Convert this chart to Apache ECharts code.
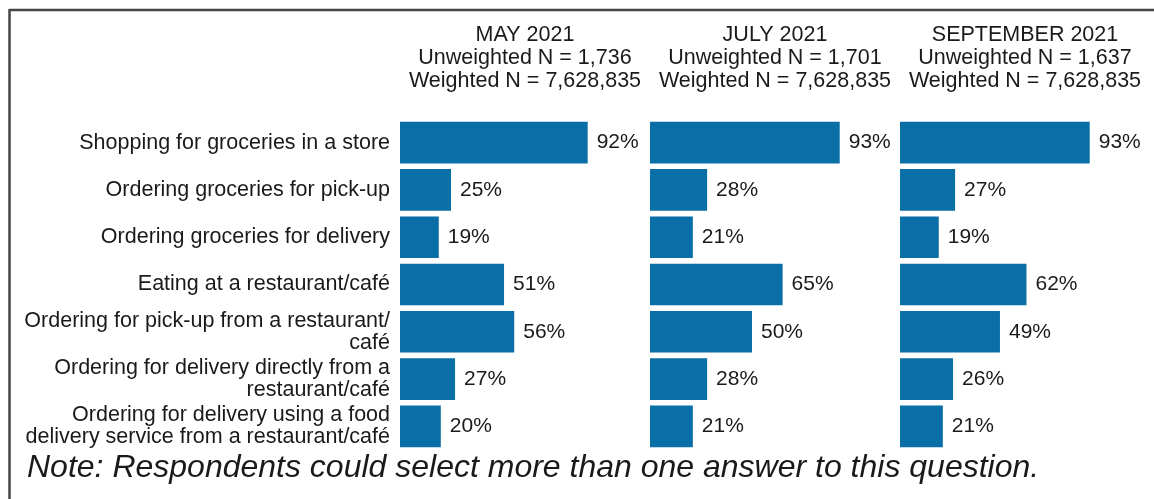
<!DOCTYPE html>
<html>
<head>
<meta charset="utf-8">
<style>
  html, body { margin: 0; padding: 0; background: #ffffff; }
  #chart { width: 1154px; height: 499px; }
</style>
<script src="https://cdn.jsdelivr.net/npm/echarts@6/dist/echarts.min.js"></script>
</head>
<body>
<div id="chart"></div>
<script>
// Activities asked about in each survey wave
const categories = [
  'Shopping for groceries in a store',
  'Ordering groceries for pick-up',
  'Ordering groceries for delivery',
  'Eating at a restaurant/café',
  'Ordering for pick-up from a restaurant/\ncafé',
  'Ordering for delivery directly from a\nrestaurant/café',
  'Ordering for delivery using a food\ndelivery service from a restaurant/café'
];

// Percent of respondents per wave
const may2021 = [92, 25, 19, 51, 56, 27, 20];
const july2021 = [93, 28, 21, 65, 50, 28, 21];
const september2021 = [93, 27, 19, 62, 49, 26, 21];

// Panel headers
const waveNames = ['MAY 2021', 'JULY 2021', 'SEPTEMBER 2021'];
const unweightedN = ['1,736', '1,701', '1,637'];
const weightedN = ['7,628,835', '7,628,835', '7,628,835'];

const noteText = 'Note: Respondents could select more than one answer to this question.';

const FONT = '"Liberation Sans", Arial, Helvetica, sans-serif';
const BAR_COLOR = '#0a6ea7';
const TEXT_COLOR = '#1a1a1a';

const waves = [may2021, july2021, september2021];
const panelLeft = [400, 650, 900];
const panelWidth = 204;
const gridTop = 119;
const gridHeight = 331;

const grids = panelLeft.map(l => ({ left: l, top: gridTop, width: panelWidth, height: gridHeight }));

const xAxes = waves.map((_, i) => ({
  type: 'value', gridIndex: i, min: 0, max: 100,
  show: false
}));

const yAxes = waves.map((_, i) => ({
  type: 'category', gridIndex: i, data: categories, inverse: true,
  axisLine: { show: false }, axisTick: { show: false }, splitLine: { show: false },
  axisLabel: i === 0 ? {
    show: true, margin: 10, align: 'right',
    fontFamily: FONT, fontSize: 21.5, color: TEXT_COLOR, lineHeight: 22
  } : { show: false }
}));

const series = waves.map((vals, i) => ({
  type: 'bar', xAxisIndex: i, yAxisIndex: i, data: vals,
  barCategoryGap: '12%',
  itemStyle: { color: BAR_COLOR },
  label: {
    show: true, position: 'right', distance: 9,
    formatter: p => p.value + '%',
    fontFamily: FONT, fontSize: 21, color: TEXT_COLOR
  },
  silent: true
}));

const titles = waves.map((_, i) => ({
  text: waveNames[i] + '\nUnweighted N = ' + unweightedN[i] + '\nWeighted N = ' + weightedN[i],
  left: panelLeft[i] + 125, top: 24, padding: 0, textAlign: 'center',
  textStyle: { fontFamily: FONT, fontSize: 21.5, fontWeight: 'normal', color: TEXT_COLOR, lineHeight: 23 }
}));

const chart = echarts.init(document.getElementById('chart'), null, { renderer: 'canvas' });
chart.setOption({
  animation: false,
  backgroundColor: '#ffffff',
  title: titles,
  grid: grids,
  xAxis: xAxes,
  yAxis: yAxes,
  series: series,
  graphic: [
    { type: 'line', shape: { x1: 9, y1: 10, x2: 1154, y2: 10 }, style: { stroke: '#454545', lineWidth: 2.5 } },
    { type: 'line', shape: { x1: 9.5, y1: 9, x2: 9.5, y2: 499 }, style: { stroke: '#454545', lineWidth: 2.5 } },
    { type: 'text', x: 27, y: 468,
      style: { text: noteText, font: 'italic 32px ' + FONT, fill: TEXT_COLOR, verticalAlign: 'middle' } }
  ]
});
</script>
</body>
</html>
